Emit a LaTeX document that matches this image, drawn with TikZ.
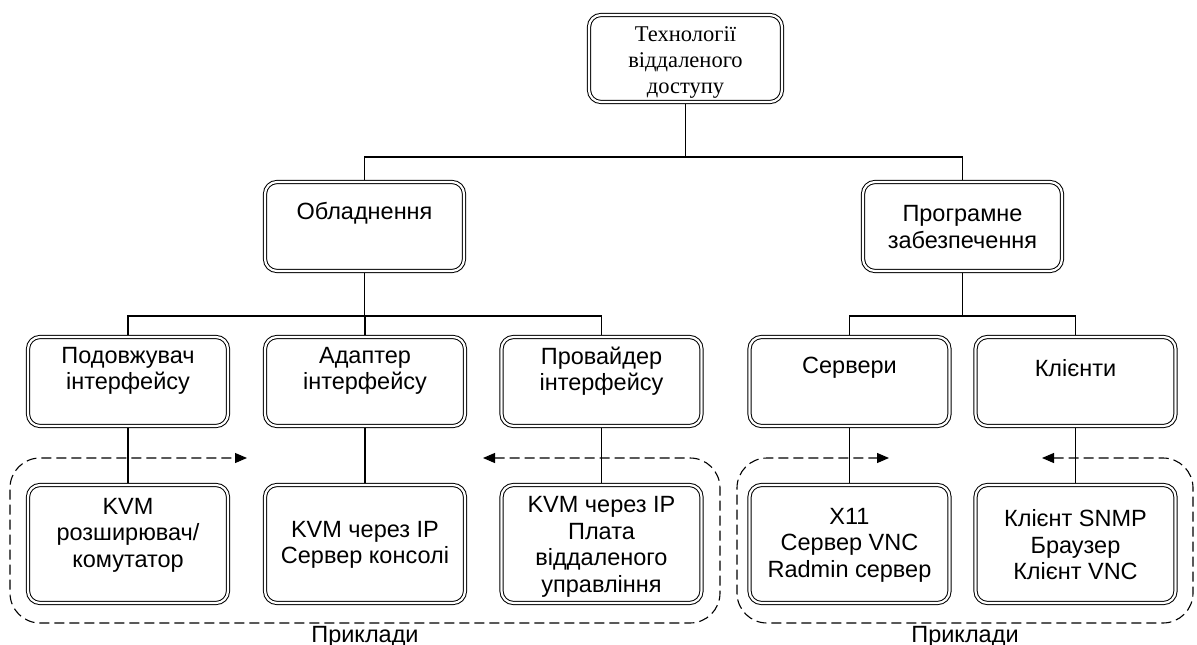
\documentclass[tikz,border=0pt]{standalone}
\usepackage{fontspec}
\setmainfont{Liberation Sans}
\newfontfamily\titlefont{Liberation Serif}
\usetikzlibrary{arrows.meta}
\begin{document}
\begin{tikzpicture}[x=1pt,y=-1pt,
  box/.style={draw, double, double distance=2.2pt, line width=1pt,
    rounded corners=12pt, outer sep=2pt, inner sep=0pt},
  l1/.style={box, minimum width=193pt, minimum height=87pt},
  l2/.style={box, minimum width=199pt, minimum height=89pt},
  l3/.style={box, minimum width=200pt, minimum height=89pt},
  l4/.style={box, minimum width=200pt, minimum height=118pt},
  lbl/.style={align=center, inner sep=0pt, font=\fontsize{23.5pt}{26.5pt}\selectfont},
  link/.style={line width=1.1pt},
  tip/.tip={Triangle[length=12pt,width=10pt]},
  group/.style={dashed, dash pattern=on 10pt off 5pt, line width=1.1pt,
    rounded corners=30pt, tip-tip},
  note/.style={inner sep=0pt, anchor=base, font=\fontsize{23.5pt}{27pt}\selectfont}
]
\fill[white] (0,0) rectangle (1197,645);
\useasboundingbox (0,0) rectangle (1197,645);

% root
\node[l1] (root) at (685.5,58.5) {};
\node[lbl, font=\titlefont\fontsize{22.5pt}{26pt}\selectfont] (root-t) at (685.5,62)
  {Технології\\віддаленого\\доступу};

% second level
\node[l2] (hw) at (364.5,226.5) {};
\node[lbl] (hw-t) at (364.5,213) {Обладнення};
\node[l2] (sw) at (962.5,226.5) {};
\node[lbl] (sw-t) at (962.5,227) {Програмне\\забезпечення};

% third level
\node[l3] (ext) at (128,381.5) {};
\node[lbl] (ext-t) at (128,371) {Подовжувач\\інтерфейсу};
\node[l3] (adp) at (365,381.5) {};
\node[lbl] (adp-t) at (365,371) {Адаптер\\інтерфейсу};
\node[l3] (prv) at (601.5,381.5) {};
\node[lbl] (prv-t) at (601.5,371) {Провайдер\\інтерфейсу};
\node[l3] (srv) at (849.5,381.5) {};
\node[lbl] (srv-t) at (849.5,368) {Сервери};
\node[l3] (cli) at (1075.5,381.5) {};
\node[lbl] (cli-t) at (1075.5,368) {Клієнти};

% examples
\node[l4] (ex1) at (128,544) {};
\node[lbl] (ex1-t) at (128,535) {KVM\\розширювач/\\комутатор};
\node[l4] (ex2) at (365,544) {};
\node[lbl] (ex2-t) at (365,545) {KVM через IP\\Сервер консолі};
\node[l4] (ex3) at (601.5,544) {};
\node[lbl] (ex3-t) at (601.5,547) {KVM через IP\\Плата\\віддаленого\\управління};
\node[l4] (ex4) at (849.5,544) {};
\node[lbl] (ex4-t) at (849.5,545) {X11\\Сервер VNC\\Radmin сервер};
\node[l4] (ex5) at (1075.5,544) {};
\node[lbl] (ex5-t) at (1075.5,545) {Клієнт SNMP\\Браузер\\Клієнт VNC};

% tree connectors
\coordinate (bus1) at (0,157);
\coordinate (bus2) at (0,316);
\draw[link] (root.south) -- (root.south |- bus1);
\draw[link] (hw.north) -- (hw.north |- bus1) -- (sw.north |- bus1) -- (sw.north);
\draw[link] (hw.south) -- (hw.south |- bus2);
\draw[link] (ext.north) -- (ext.north |- bus2) -- (prv.north |- bus2) -- (prv.north);
\draw[link] (adp.north) -- (adp.north |- bus2);
\draw[link] (sw.south) -- (sw.south |- bus2);
\draw[link] (srv.north) -- (srv.north |- bus2) -- (cli.north |- bus2) -- (cli.north);
\draw[link] (ext.south) -- (ex1.north);
\draw[link] (adp.south) -- (ex2.north);
\draw[link] (prv.south) -- (ex3.north);
\draw[link] (srv.south) -- (ex4.north);
\draw[link] (cli.south) -- (ex5.north);

% dashed example groups
\coordinate (ga) at (483,458);
\coordinate (gb) at (247,458);
\draw[group] (ga) -- (720,458) -- (720,623) -- (10,623) -- (10,458) -- (gb);
\coordinate (gc) at (1042,458);
\coordinate (gd) at (889,458);
\draw[group] (gc) -- (1193,458) -- (1193,623) -- (737,623) -- (737,458) -- (gd);

\node[note] (n1) at (365,642) {Приклади};
\node[note] (n2) at (965,642) {Приклади};
\end{tikzpicture}
\end{document}
